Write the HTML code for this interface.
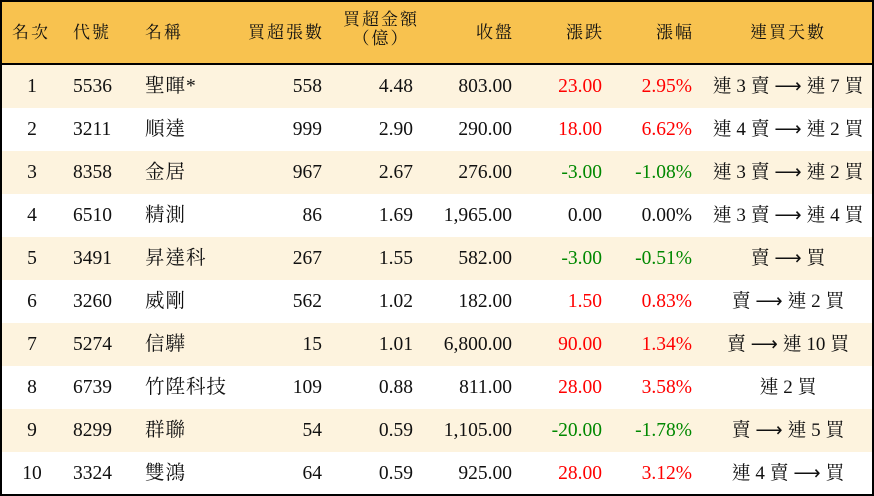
<!DOCTYPE html>
<html><head><meta charset="utf-8"><style>
body{margin:0;width:874px;height:496px;background:#fff;font-family:"Liberation Serif","Noto Serif CJK TC","Noto Serif CJK SC",serif;font-size:19.5px;color:#111;}
.t{position:absolute;left:0;top:0;width:870px;height:492px;border:2px solid #000;overflow:hidden;}
.h{position:absolute;left:0;top:0;width:870px;height:61px;background:#F8C24F;border-bottom:2px solid #000;}
.r{position:absolute;left:0;width:870px;height:43px;}
.c{position:absolute;white-space:nowrap;line-height:22px;}
.R{text-align:right;}
.C{text-align:center;}
.red{color:#f00}.grn{color:#080}
.h .c{font-size:17px;letter-spacing:2px}
.h .R{margin-right:-2px}
.cjk{letter-spacing:1px}
</style></head><body><div class="t">
<div class="h">
<div class="c" style="left:10px;top:20px">名次</div>
<div class="c" style="left:71px;top:20px">代號</div>
<div class="c" style="left:143px;top:20px">名稱</div>
<div class="c R" style="right:550px;top:20px">買超張數</div>
<div class="c C" style="left:336px;width:86px;top:8px;line-height:19px">買超金額<br>（億）</div>
<div class="c R" style="right:360px;top:20px">收盤</div>
<div class="c R" style="right:270px;top:20px">漲跌</div>
<div class="c R" style="right:180px;top:20px">漲幅</div>
<div class="c C" style="left:720px;width:132px;top:20px">連買天數</div>
</div>
<div id="rows"></div>
</div>
<script>
var d=[["1","5536","聖暉*","558","4.48","803.00","23.00","2.95%","連 3 賣 ⟶ 連 7 買",1],
["2","3211","順達","999","2.90","290.00","18.00","6.62%","連 4 賣 ⟶ 連 2 買",1],
["3","8358","金居","967","2.67","276.00","-3.00","-1.08%","連 3 賣 ⟶ 連 2 買",-1],
["4","6510","精測","86","1.69","1,965.00","0.00","0.00%","連 3 賣 ⟶ 連 4 買",0],
["5","3491","昇達科","267","1.55","582.00","-3.00","-0.51%","賣 ⟶ 買",-1],
["6","3260","威剛","562","1.02","182.00","1.50","0.83%","賣 ⟶ 連 2 買",1],
["7","5274","信驊","15","1.01","6,800.00","90.00","1.34%","賣 ⟶ 連 10 買",1],
["8","6739","竹陞科技","109","0.88","811.00","28.00","3.58%","連 2 買",1],
["9","8299","群聯","54","0.59","1,105.00","-20.00","-1.78%","賣 ⟶ 連 5 買",-1],
["10","3324","雙鴻","64","0.59","925.00","28.00","3.12%","連 4 賣 ⟶ 買",1]];
var h="";
d.forEach(function(x,i){var cl=x[9]>0?"red":x[9]<0?"grn":"";
h+='<div class="r" style="top:'+(63+i*43)+'px;background:'+(i%2==0?'#FDF3DE':'#fff')+'">'+
'<div class="c C" style="left:10px;width:40px;top:11px">'+x[0]+'</div>'+
'<div class="c" style="left:71px;top:11px">'+x[1]+'</div>'+
'<div class="c cjk" style="left:143px;top:11px">'+x[2]+'</div>'+
'<div class="c R" style="right:550px;top:11px">'+x[3]+'</div>'+
'<div class="c R" style="right:459px;top:11px">'+x[4]+'</div>'+
'<div class="c R" style="right:360px;top:11px">'+x[5]+'</div>'+
'<div class="c R '+cl+'" style="right:270px;top:11px">'+x[6]+'</div>'+
'<div class="c R '+cl+'" style="right:180px;top:11px">'+x[7]+'</div>'+
'<div class="c C" style="left:706px;width:160px;top:11px;font-size:19px">'+x[8]+'</div></div>';});
document.getElementById("rows").innerHTML=h;
</script></body></html>
